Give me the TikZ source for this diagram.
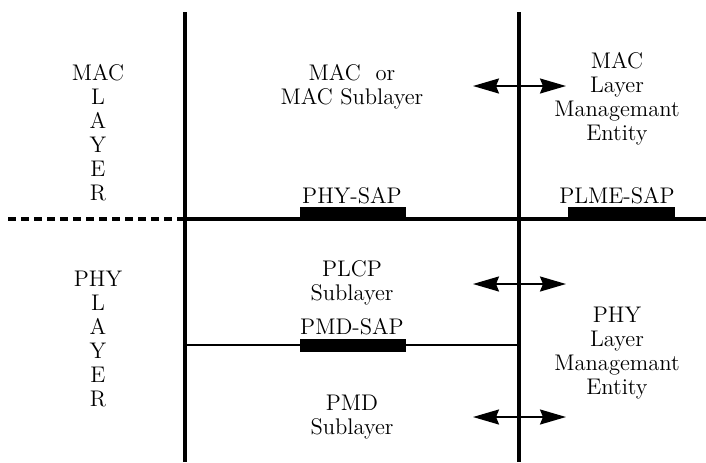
\documentclass[tikz,border=0pt]{standalone}
\usetikzlibrary{arrows.meta}
\begin{document}
\begin{tikzpicture}[x=0.5pt, y=-0.5pt,
    lbl/.style={font=\fontsize{11.3}{12}\selectfont, align=center, inner sep=0pt},
    wall/.style={line width=1.6pt},
    sapbar/.style={fill=black},
    link/.style={line width=1pt, {Stealth[length=13pt,width=7.5pt,inset=1.5pt]}-{Stealth[length=13pt,width=7.5pt,inset=1.5pt]}}]
  \useasboundingbox (0,0) rectangle (706,462);

  % frame lines
  \draw[wall] (185,12) -- (185,462);
  \draw[wall] (519,12) -- (519,462);
  \draw[wall, dash pattern=on 4pt off 2.5pt] (8,219) -- (185,219);
  \draw[wall] (185,219) -- (706,219);
  \draw[line width=1.4pt] (185,345) -- (519,345);

  % SAP bars
  \fill[sapbar] (300,207) rectangle (406,219);
  \fill[sapbar] (568,207) rectangle (675,219);
  \fill[sapbar] (300,339) rectangle (406,352);

  % MAC part
  \node[lbl] (maclayer) at (98,133) {MAC\\L\\A\\Y\\E\\R};
  \node[lbl] (macsub) at (352,87) {MAC\ \ or\\MAC Sublayer};
  \node[lbl] (physap) at (352,196) {PHY-SAP};
  \node[lbl] (mlme) at (617,99) {MAC\\Layer\\Managemant\\Entity};
  \node[lbl] (plmesap) at (617,196) {PLME-SAP};

  % PHY part
  \node[lbl] (phylayer) at (98,339) {PHY\\L\\A\\Y\\E\\R};
  \node[lbl] (plcp) at (352,283) {PLCP\\Sublayer};
  \node[lbl] (pmdsap) at (352,327) {PMD-SAP};
  \node[lbl] (plme) at (617,353) {PHY\\Layer\\Managemant\\Entity};
  \node[lbl] (pmd) at (352,417) {PMD\\Sublayer};

  % arrows to the management entities
  \coordinate (macl) at (473,86);
  \coordinate (macr) at (566,86);
  \coordinate (plcpl) at (473,284);
  \coordinate (plcpr) at (566,284);
  \coordinate (pmdl) at (473,417);
  \coordinate (pmdr) at (566,417);
  \draw[link] (macl) -- (macr);
  \draw[link] (plcpl) -- (plcpr);
  \draw[link] (pmdl) -- (pmdr);
\end{tikzpicture}
\end{document}
